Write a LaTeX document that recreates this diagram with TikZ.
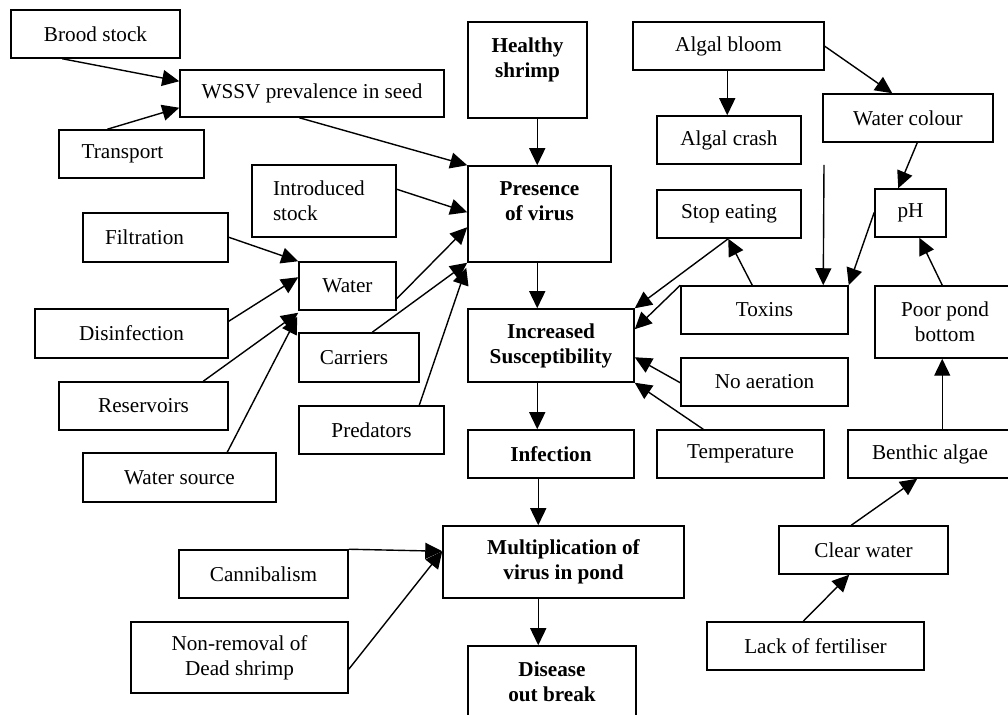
\documentclass[tikz,border=0pt]{standalone}
\usepackage{fontspec}
\setmainfont{Liberation Serif}
\usetikzlibrary{arrows.meta,calc}
\tikzset{
  bx/.style={draw=black,line width=0.75pt,rectangle,inner sep=0pt,align=center,
    font=\fontsize{10.6pt}{12.5pt}\selectfont},
  bbx/.style={bx,font=\fontsize{10.6pt}{12.5pt}\selectfont\bfseries},
  arr/.style={draw=black,line width=0.7pt,-{Triangle[length=8.5pt,width=8pt]}},
}
\newcommand{\mybx}[7][]{%
  \node[bx,minimum width={(#5-#3)*0.5pt},minimum height={(#6-#4)*0.5pt},#1] (#2)
    at ({(#3+#5)/2},{(#4+#6)/2}) {#7};}
\begin{document}
\begin{tikzpicture}[x=0.5pt,y=-0.5pt]
\useasboundingbox (0,0) rectangle (1008,715);
\clip (0,0) rectangle (1008,715);
\fill[white] (0,0) rectangle (1008,715);
% boxes
\mybx{brood}{11}{10}{180}{58}{Brood stock}
\mybx{wssv}{180}{70}{444}{117}{WSSV prevalence in seed}
\mybx{transport}{59}{130}{204}{178}{\hspace*{-9pt}Transport}
\mybx[bbx]{healthy}{468}{22}{587}{118}{Healthy\\shrimp\\\mbox{}}
\mybx[bbx]{presence}{468}{166}{611}{262}{Presence\\of virus\\\mbox{}}
\mybx{algalbloom}{633}{22}{824}{70}{Algal bloom}
\mybx{algalcrash}{657}{116}{801}{164}{Algal crash}
\mybx{watercolour}{823}{94}{993}{142}{Water colour}
\mybx[text width=51pt,align=left]{introduced}{252}{165}{396}{237}{Introduced\\stock}
\mybx{filtration}{83}{213}{228}{262}{\hspace*{-11pt}Filtration}
\mybx{water}{299}{262}{396}{310}{Water}
\mybx{disinfection}{35}{309}{228}{358}{Disinfection}
\mybx{reservoirs}{59}{382}{228}{430}{Reservoirs}
\mybx{watersource}{83}{453}{276}{502}{Water source}
\mybx{carriers}{299}{333}{419}{382}{\hspace*{-5pt}Carriers}
\mybx{predators}{299}{406}{444}{454}{Predators}
\mybx{stopeating}{657}{190}{801}{238}{Stop eating}
\mybx{ph}{875}{189}{946}{237}{pH}
\mybx{toxins}{681}{286}{848}{334}{Toxins}
\mybx{poorpond}{875}{286}{1015}{358}{Poor pond\\bottom}
\mybx[bbx]{increased}{468}{309}{634}{382}{Increased\\Susceptibility}
\mybx{noaeration}{681}{358}{848}{406}{No aeration}
\mybx[bbx]{infection}{468}{430}{634}{478}{Infection}
\mybx{temperature}{657}{430}{824}{478}{Temperature}
\mybx{benthic}{848}{430}{1012}{478}{Benthic algae}
\mybx[bbx]{multiplication}{443}{526}{684}{598}{Multiplication of\\virus in pond}
\mybx{cannibalism}{179}{550}{348}{598}{Cannibalism}
\mybx{nonremoval}{131}{622}{348}{693}{Non-removal of\\Dead shrimp}
\mybx[bbx]{disease}{468}{646}{636}{717}{Disease\\out break}
\mybx{clearwater}{779}{526}{948}{574}{Clear water}
\mybx{lack}{707}{622}{924}{670}{Lack of fertiliser}
\coordinate (freetop) at (824,165);
% connectors
\draw[arr] ($(brood.south west)+(52,0)$) -- ($(wssv.north west)+(0,12)$);
\draw[arr] ($(transport.north west)+(49,0)$) -- ($(wssv.south west)+(0,-10)$);
\draw[arr] ($(wssv.south west)+(120,0)$) -- (presence.north west);
\draw[arr] ($(introduced.north east)+(0,25)$) -- ($(presence.north west)+(0,47)$);
\draw[arr] ($(filtration.north east)+(0,25)$) -- (water.north west);
\draw[arr] ($(disinfection.north east)+(0,13)$) -- ($(water.north west)+(0,16)$);
\draw[arr] ($(reservoirs.north west)+(145,0)$) -- ($(water.south west)+(0,2)$);
\draw[arr] ($(watersource.north west)+(145,0)$) -- ($(water.south west)+(-1,6)$);
\draw[arr] ($(water.south east)+(0,-12)$) -- ($(presence.north west)+(0,62)$);
\draw[arr] ($(carriers.north west)+(74,0)$) -- (presence.south west);
\draw[arr] ($(predators.north west)+(121,0)$) -- ($(presence.south west)+(-1,5)$);
\draw[arr] ($(healthy.south west)+(70,0)$) -- ($(presence.north west)+(70,0)$);
\draw[arr] ($(presence.south west)+(70,0)$) -- ($(increased.north west)+(70,0)$);
\draw[arr] ($(increased.south west)+(70,0)$) -- ($(infection.north west)+(70,0)$);
\draw[arr] ($(infection.south west)+(71,0)$) -- ($(multiplication.north west)+(96,0)$);
\draw[arr] ($(multiplication.south west)+(96,0)$) -- ($(disease.north west)+(71,0)$);
\draw[arr] (cannibalism.north east) -- ($(multiplication.north west)+(0,26)$);
\draw[arr] ($(nonremoval.north east)+(0,48)$) -- ($(multiplication.north west)+(0,26)$);
\draw[arr] ($(algalbloom.south west)+(95,0)$) -- ($(algalcrash.north west)+(71,0)$);
\draw[arr] ($(algalbloom.north east)+(0,25)$) -- ($(watercolour.north west)+(70,0)$);
\draw[arr] ($(watercolour.south west)+(95,0)$) -- ($(ph.north west)+(24,0)$);
\draw[arr] ($(ph.north west)+(0,24)$) -- (toxins.north east);
\draw[arr] (freetop) -- ($(toxins.north west)+(143,0)$);
\draw[arr] ($(toxins.north west)+(72,0)$) -- ($(stopeating.south west)+(72,0)$);
\draw[arr] ($(stopeating.south west)+(72,0)$) -- (increased.north east);
\draw[arr] (toxins.north west) -- ($(increased.north east)+(0,21)$);
\draw[arr] ($(noaeration.south west)+(0,-24)$) -- ($(increased.north east)+(0,49)$);
\draw[arr] ($(temperature.north west)+(47,0)$) -- (increased.south east);
\draw[arr] ($(poorpond.north west)+(68,0)$) -- ($(ph.south west)+(45,0)$);
\draw[arr] ($(benthic.north west)+(95,0)$) -- ($(poorpond.south west)+(68,0)$);
\draw[arr] ($(clearwater.north west)+(73,0)$) -- ($(benthic.south west)+(70,0)$);
\draw[arr] ($(lack.north west)+(97,0)$) -- ($(clearwater.south west)+(71,0)$);
\end{tikzpicture}
\end{document}
